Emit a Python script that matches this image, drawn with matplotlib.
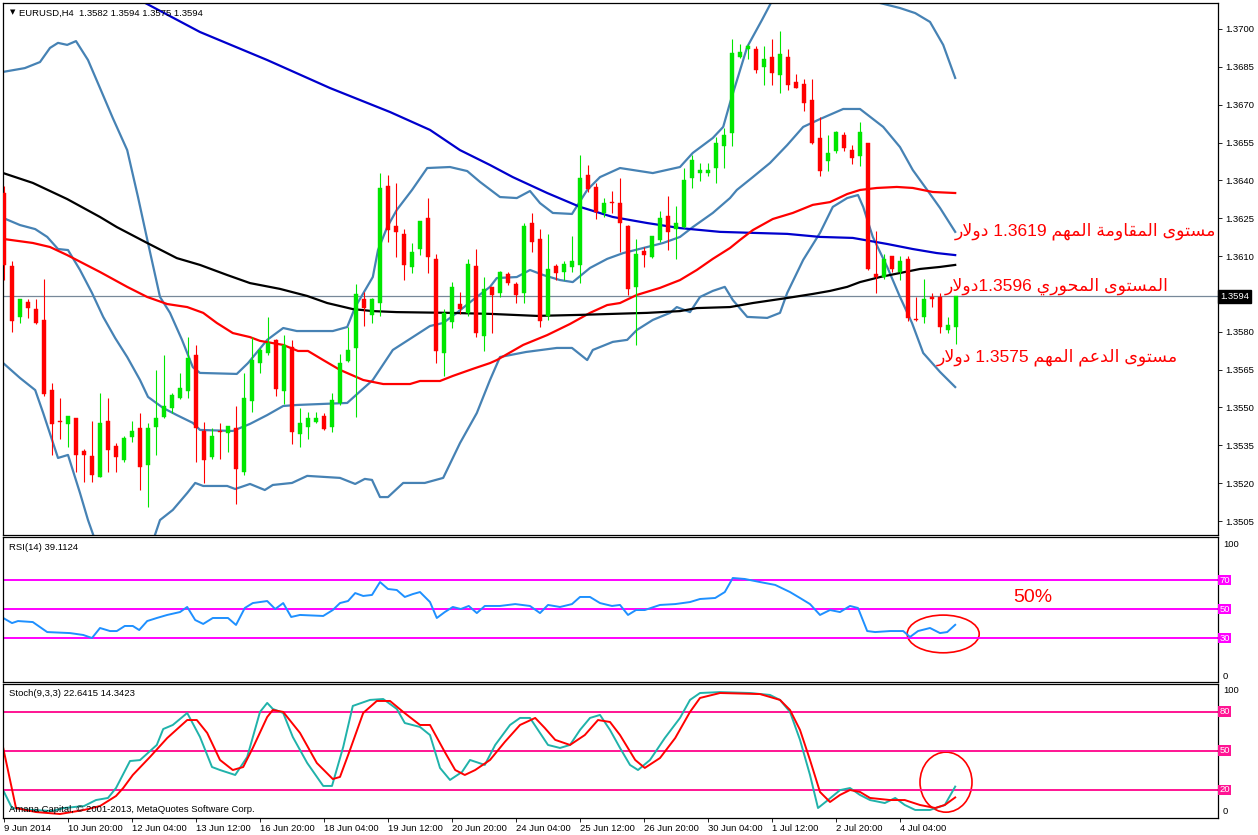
import re
import matplotlib
matplotlib.use("Agg")
import matplotlib.pyplot as plt
from matplotlib.patches import Ellipse

# ---- candles (EURUSD H4), bar 0 = 9 Jun 2014 12:00 ----
opens = [1.36350, 1.36060, 1.35857, 1.35917, 1.35890, 1.35847, 1.35569, 1.35446, 1.35435, 1.35460,
         1.35328, 1.35308, 1.35226, 1.35447, 1.35347, 1.35292, 1.35384, 1.35420, 1.35272, 1.35424,
         1.35464, 1.35497, 1.35536, 1.35567, 1.35708, 1.35407, 1.35305, 1.35407, 1.35398, 1.35420,
         1.35246, 1.35527, 1.35675, 1.35717, 1.35768, 1.35567, 1.35739, 1.35395, 1.35424, 1.35444,
         1.35466, 1.35424, 1.35517, 1.35685, 1.35737, 1.35930, 1.35867, 1.35915, 1.36378, 1.36219,
         1.36188, 1.36058, 1.36127, 1.36250, 1.36087, 1.35717, 1.35838, 1.35909, 1.35873, 1.36061,
         1.35785, 1.35979, 1.35955, 1.36029, 1.35988, 1.35955, 1.36232, 1.36168, 1.35863, 1.36061,
         1.36038, 1.36058, 1.36065, 1.36421, 1.36375, 1.36270, 1.36316, 1.36309, 1.36219, 1.35976,
         1.36120, 1.36098, 1.36164, 1.36259, 1.36206, 1.36217, 1.36408, 1.36428, 1.36428, 1.36448,
         1.36536, 1.36589, 1.36888, 1.36920, 1.36920, 1.36848, 1.36888, 1.36818, 1.36888, 1.36789,
         1.36782, 1.36719, 1.36567, 1.36478, 1.36518, 1.36580, 1.36520, 1.36497, 1.36547, 1.36029,
         1.36016, 1.36100, 1.36038, 1.36087, 1.35848, 1.35857, 1.35937, 1.35937, 1.35807, 1.35820]
highs = [1.36378, 1.36081, 1.35930, 1.35930, 1.35930, 1.36009, 1.35596, 1.35536, 1.35466, 1.35460,
         1.35336, 1.35448, 1.35556, 1.35536, 1.35358, 1.35387, 1.35447, 1.35480, 1.35437, 1.35649,
         1.35708, 1.35556, 1.35638, 1.35781, 1.35748, 1.35444, 1.35418, 1.35437, 1.35427, 1.35506,
         1.35638, 1.35781, 1.35735, 1.35860, 1.35770, 1.35787, 1.35768, 1.35499, 1.35483, 1.35483,
         1.35477, 1.35556, 1.35712, 1.35820, 1.35990, 1.35959, 1.35932, 1.36428, 1.36421, 1.36391,
         1.36207, 1.36151, 1.36240, 1.36329, 1.36108, 1.35889, 1.35996, 1.35957, 1.36089, 1.36128,
         1.36018, 1.35979, 1.36040, 1.36036, 1.35996, 1.36232, 1.36272, 1.36207, 1.36188, 1.36069,
         1.36081, 1.36180, 1.36501, 1.36461, 1.36388, 1.36329, 1.36358, 1.36408, 1.36222, 1.36168,
         1.36137, 1.36180, 1.36279, 1.36339, 1.36300, 1.36448, 1.36501, 1.36468, 1.36468, 1.36573,
         1.36606, 1.36960, 1.36941, 1.36939, 1.36933, 1.36933, 1.36960, 1.36992, 1.36920, 1.36822,
         1.36801, 1.36801, 1.36650, 1.36580, 1.36595, 1.36593, 1.36540, 1.36633, 1.36550, 1.36201,
         1.36108, 1.36100, 1.36100, 1.36100, 1.35939, 1.36008, 1.35955, 1.35955, 1.35857, 1.35940]
lows = [1.36006, 1.35800, 1.35836, 1.35856, 1.35830, 1.35546, 1.35312, 1.35376, 1.35345, 1.35246,
        1.35206, 1.35206, 1.35226, 1.35246, 1.35246, 1.35285, 1.35364, 1.35173, 1.35104, 1.35312,
        1.35458, 1.35477, 1.35532, 1.35536, 1.35285, 1.35200, 1.35295, 1.35295, 1.35325, 1.35116,
        1.35232, 1.35483, 1.35636, 1.35708, 1.35546, 1.35514, 1.35355, 1.35345, 1.35375, 1.35437,
        1.35410, 1.35404, 1.35510, 1.35680, 1.35464, 1.35823, 1.35836, 1.35863, 1.36157, 1.36098,
        1.36005, 1.36034, 1.36104, 1.36034, 1.35675, 1.35626, 1.35816, 1.35869, 1.35863, 1.35778,
        1.35725, 1.35794, 1.35939, 1.35985, 1.35915, 1.35915, 1.36117, 1.35818, 1.35847, 1.36005,
        1.36005, 1.36038, 1.35995, 1.36353, 1.36247, 1.36256, 1.36272, 1.36117, 1.35946, 1.35748,
        1.36058, 1.36092, 1.36157, 1.36124, 1.36087, 1.36212, 1.36369, 1.36399, 1.36419, 1.36388,
        1.36448, 1.36536, 1.36884, 1.36880, 1.36827, 1.36778, 1.36778, 1.36748, 1.36758, 1.36765,
        1.36676, 1.36545, 1.36419, 1.36438, 1.36507, 1.36518, 1.36465, 1.36457, 1.36045, 1.35955,
        1.36010, 1.36038, 1.36005, 1.35844, 1.35844, 1.35836, 1.35897, 1.35796, 1.35796, 1.35750]
closes = [1.36065, 1.35844, 1.35930, 1.35896, 1.35836, 1.35552, 1.35435, 1.35442, 1.35466, 1.35312,
          1.35312, 1.35232, 1.35437, 1.35332, 1.35305, 1.35378, 1.35407, 1.35265, 1.35420, 1.35460,
          1.35506, 1.35550, 1.35576, 1.35695, 1.35418, 1.35292, 1.35387, 1.35402, 1.35427, 1.35255,
          1.35536, 1.35688, 1.35728, 1.35757, 1.35573, 1.35748, 1.35404, 1.35437, 1.35457, 1.35457,
          1.35416, 1.35530, 1.35675, 1.35728, 1.35950, 1.35893, 1.35929, 1.36369, 1.36203, 1.36197,
          1.36065, 1.36117, 1.36239, 1.36098, 1.35725, 1.35873, 1.35976, 1.35889, 1.36069, 1.35796,
          1.35968, 1.35946, 1.36036, 1.35992, 1.35946, 1.36219, 1.36157, 1.35844, 1.36049, 1.36032,
          1.36069, 1.36082, 1.36408, 1.36366, 1.36276, 1.36309, 1.36312, 1.36230, 1.35968, 1.36107,
          1.36104, 1.36180, 1.36252, 1.36197, 1.36230, 1.36402, 1.36481, 1.36441, 1.36441, 1.36547,
          1.36580, 1.36904, 1.36910, 1.36933, 1.36838, 1.36880, 1.36827, 1.36901, 1.36778, 1.36767,
          1.36708, 1.36547, 1.36438, 1.36507, 1.36591, 1.36527, 1.36488, 1.36591, 1.36048, 1.36016,
          1.36087, 1.36048, 1.36082, 1.35856, 1.35846, 1.35929, 1.35929, 1.35818, 1.35827, 1.35940]

# ---- Bollinger bands (read at sample bars) ----
bb_up_x = [-0.1, 2.6, 4.5, 5.75, 6.75, 7.9, 9, 10.5, 12, 13.6, 15.4, 16.75, 18, 19.5, 20.75, 22.25,
           23.6, 24.5, 29.1, 30.5, 32.9, 34.9, 36.6, 41.1, 42.9, 43.9, 46.1, 46.75, 47.9, 49.1, 51,
           52.9, 55.75, 57.9, 59.5, 62, 64.1, 65.75, 67, 68.6, 71, 72.9, 74.5, 77, 81.1, 84.5, 86.1,
           88.6, 89.9, 90.75, 92.9, 94.75, 96.4, 99.5, 103.25, 106.4, 109.5, 112, 113.9, 115.75,
           117.4, 118.9]
bb_up = [1.36830, 1.36845, 1.36869, 1.36925, 1.36945, 1.36937, 1.36952, 1.36877, 1.36766, 1.36647,
         1.36520, 1.36334, 1.36152, 1.35938, 1.35875, 1.35768, 1.35660, 1.35637, 1.35633, 1.35676,
         1.35768, 1.35815, 1.35803, 1.35803, 1.35819, 1.35898, 1.36017, 1.36124, 1.36215, 1.36283,
         1.36362, 1.36449, 1.36453, 1.36437, 1.36394, 1.36334, 1.36330, 1.36358, 1.36310, 1.36271,
         1.36267, 1.36362, 1.36413, 1.36449, 1.36429, 1.36453, 1.36509, 1.36568, 1.36612, 1.36707,
         1.36929, 1.37036, 1.37135, 1.37214, 1.37163, 1.37115, 1.37103, 1.37083, 1.37063, 1.37028,
         1.36937, 1.36806]
bb_mid_x = [-0.1, 2, 3.9, 5.4, 6.75, 8, 9.5, 11, 12.4, 13.9, 15.4, 17, 18, 19.9, 21.6, 23.6, 24.5,
            28.6, 30.75, 32.9, 34.9, 36.6, 42.9, 46.1, 48.6, 51.1, 53.25, 54.9, 56.6, 58.6, 60.75,
            61.6, 64.1, 65.75, 67.4, 69.5, 71.1, 73.25, 75.4, 77.4, 80.4, 82.4, 84.5, 86.1, 88.6,
            90.75, 91.6, 93.6, 95.75, 97.9, 99.9, 102, 104.9, 107, 109.9, 112, 113.6, 115.4, 117,
            118.9]
bb_mid = [1.36251, 1.36223, 1.36207, 1.36176, 1.36128, 1.36124, 1.36045, 1.35954, 1.35859, 1.35775,
          1.35700, 1.35609, 1.35542, 1.35498, 1.35470, 1.35439, 1.35411, 1.35407, 1.35435, 1.35470,
          1.35506, 1.35510, 1.35518, 1.35609, 1.35728, 1.35779, 1.35823, 1.35835, 1.35875, 1.35926,
          1.35978, 1.36013, 1.36017, 1.36045, 1.36025, 1.36005, 1.35997, 1.36053, 1.36089, 1.36112,
          1.36136, 1.36152, 1.36176, 1.36215, 1.36271, 1.36330, 1.36362, 1.36413, 1.36469, 1.36540,
          1.36612, 1.36643, 1.36683, 1.36683, 1.36612, 1.36532, 1.36441, 1.36362, 1.36291, 1.36196]
bb_lo_x = [-0.1, 2, 3.9, 4.9, 6.75, 8, 9.5, 10.5, 11.6, 13.25, 15.1, 17.6, 19.5, 21.1, 22.9, 23.9,
           24.9, 27.9, 28.9, 30.75, 32.6, 33.6, 36, 37.9, 42, 43.9, 45.1, 46, 47, 48, 49.9, 52.6,
           54.9, 57, 59.1, 60.75, 62, 65.25, 69.1, 71, 72.9, 73.6, 76.1, 77.9, 79.1, 81.1, 83.25,
           84.1, 85.75, 87, 88.6, 90.1, 91.1, 92.9, 95.4, 97, 97.9, 99.9, 102, 103.6, 105.4, 106.75,
           107.4, 108.6, 110.4, 112, 113.5, 114.9, 117, 118.9]
bb_lo = [1.35676, 1.35617, 1.35569, 1.35478, 1.35300, 1.35312, 1.35161, 1.35054, 1.34955, 1.34876,
         1.34836, 1.34876, 1.35054, 1.35094, 1.35161, 1.35201, 1.35189, 1.35189, 1.35177, 1.35197,
         1.35173, 1.35193, 1.35201, 1.35229, 1.35221, 1.35197, 1.35217, 1.35213, 1.35145, 1.35145,
         1.35201, 1.35201, 1.35221, 1.35359, 1.35478, 1.35609, 1.35700, 1.35720, 1.35736, 1.35736,
         1.35688, 1.35728, 1.35760, 1.35768, 1.35807, 1.35847, 1.35875, 1.35898, 1.35878, 1.35938,
         1.35962, 1.35978, 1.35926, 1.35859, 1.35855, 1.35875, 1.35954, 1.36085, 1.36192, 1.36295,
         1.36330, 1.36342, 1.36295, 1.36176, 1.36057, 1.35938, 1.35835, 1.35716, 1.35641, 1.35581]

# ---- moving averages ----
ma_red_x = [-0.1, 3.6, 5.75, 7.9, 12, 15.4, 17.9, 20.4, 22.9, 24.9, 26.6, 28.6, 30.75, 32, 34.9,
            36.75, 38, 39.9, 42, 44.9, 47.4, 50.75, 52, 54.5, 56.1, 58.6, 60.75, 61.6, 64.9, 67.9,
            70.75, 73.25, 75.4, 77, 79.1, 82, 84.5, 86.6, 88.6, 90.75, 92, 93.6, 96.1, 98.6, 101.1,
            103.25, 105.4, 107, 109.1, 111.6, 113.6, 116.1, 118.9]
ma_red = [1.36168, 1.36152, 1.36136, 1.36104, 1.36037, 1.35978, 1.35938, 1.35910, 1.35898, 1.35875,
          1.35835, 1.35795, 1.35779, 1.35764, 1.35748, 1.35724, 1.35724, 1.35688, 1.35649, 1.35609,
          1.35593, 1.35593, 1.35605, 1.35605, 1.35625, 1.35653, 1.35676, 1.35688, 1.35748, 1.35787,
          1.35831, 1.35875, 1.35906, 1.35914, 1.35946, 1.35974, 1.36005, 1.36045, 1.36089, 1.36132,
          1.36164, 1.36203, 1.36247, 1.36271, 1.36303, 1.36314, 1.36346, 1.36362, 1.36370, 1.36374,
          1.36370, 1.36354, 1.36350]
ma_black_x = [-0.1, 3.6, 7.9, 12, 14.1, 17.9, 21.6, 24.5, 27.9, 30.75, 34.5, 37.9, 40.4, 43.6, 46.1,
              49.1, 55.75, 60.75, 66.6, 72, 76.1, 80.4, 84.5, 86.6, 90.75, 93.6, 97.9, 101.1, 103.25,
              105.4, 107, 109.5, 112, 114.5, 117, 118.9]
ma_black = [1.36429, 1.36390, 1.36326, 1.36255, 1.36215, 1.36152, 1.36092, 1.36065, 1.36025, 1.35993,
            1.35970, 1.35942, 1.35914, 1.35890, 1.35882, 1.35878, 1.35875, 1.35871, 1.35863, 1.35867,
            1.35871, 1.35875, 1.35882, 1.35894, 1.35898, 1.35914, 1.35934, 1.35950, 1.35962, 1.35978,
            1.35997, 1.36017, 1.36033, 1.36049, 1.36057, 1.36065]
ma_blue_x = [15.75, 24.5, 32.9, 40.75, 48.25, 53.25, 57, 60.75, 63.6, 67.9, 72, 76.1, 80.4, 84.5,
             89.5, 93.6, 97.9, 102, 106.1, 108.25, 110.4, 113.6, 116.6, 118.9]
ma_blue = [1.37135, 1.36988, 1.36877, 1.36766, 1.36671, 1.36600, 1.36520, 1.36461, 1.36413, 1.36350,
           1.36295, 1.36255, 1.36231, 1.36211, 1.36196, 1.36192, 1.36188, 1.36176, 1.36172, 1.36160,
           1.36148, 1.36128, 1.36112, 1.36104]

# ---- RSI(14) ----
rsi_x = [-0.1, 1, 1.75, 3.6, 5.4, 8.25, 9.9, 11, 12, 13.25, 14.1, 15.1, 16.1, 16.9, 17.9, 19.1, 20.4,
         22, 22.9, 23.9, 24.9, 26.1, 28, 29, 30.1, 31.1, 32.9, 33.9, 34.9, 35.9, 37, 39.9, 41.1, 42,
         43, 43.9, 44.9, 46, 47, 48, 49.1, 50.1, 51.1, 52, 53.25, 54.1, 55.1, 56.1, 57.1, 58.1, 59.1,
         60.1, 62, 63.9, 65.75, 67, 68, 69.5, 71, 72, 73.25, 74.5, 76, 77, 78, 79, 80.1, 82, 83.9,
         85.75, 87, 88.9, 90.1, 91.1, 92.6, 94.5, 96.4, 98.25, 99.5, 100.75, 102, 103.25, 104.5,
         105.75, 106.75, 107.9, 108.9, 110.75, 112.4, 113.25, 114.25, 115.75, 117, 117.9, 118.9]
rsi = [43.8, 40.3, 41.7, 41.0, 34.1, 33.4, 32.1, 30.0, 36.9, 34.8, 34.8, 38.3, 38.3, 35.5, 41.7, 43.8,
       45.9, 47.9, 51.4, 42.4, 39.7, 43.8, 43.8, 39.0, 50.7, 54.1, 55.5, 50.0, 54.1, 44.5, 45.9, 45.2,
       49.3, 54.1, 55.5, 61.0, 59.0, 59.7, 68.6, 63.8, 63.1, 58.3, 60.3, 61.7, 54.8, 43.8, 47.9, 51.4,
       50.0, 52.1, 47.2, 52.1, 52.1, 53.4, 52.1, 47.2, 52.8, 51.4, 53.4, 58.3, 58.3, 54.1, 52.1, 52.8,
       45.9, 49.3, 49.3, 52.8, 53.4, 54.8, 56.9, 57.6, 61.7, 71.4, 70.7, 68.6, 66.6, 61.7, 57.6, 53.4,
       45.9, 49.3, 47.9, 52.1, 50.7, 34.8, 34.1, 34.8, 34.8, 30.7, 34.8, 36.9, 33.4, 34.1, 39.1]

# ---- Stochastic(9,3,3) ----
stk_x = [0, 1, 3.5, 6, 7.5, 10, 11.5, 13, 14, 15.75, 17, 19.1, 19.9, 21.1, 22.9, 24.5, 26, 27, 28.9,
         30.4, 32, 32.9, 33.6, 34.9, 36.1, 37.9, 39.9, 41, 42.4, 43.6, 45.75, 47.4, 49.1, 50.1, 52,
         53.25, 54.5, 55.75, 57.25, 58.25, 60.1, 61.4, 63.25, 64.5, 65.75, 66.75, 68, 69.5, 70.75, 72,
         73.25, 74.5, 75.75, 77, 78.25, 79.25, 80.75, 82.6, 84.5, 85.75, 87, 89.5, 93.25, 95.75, 97,
         98.25, 99.5, 100.75, 101.75, 103, 104.5, 105.75, 107, 108.25, 110.1, 111.4, 112.6, 113.9,
         115.75, 117.6, 118.9]
stk = [18.5, 6.2, 4.7, 3.9, 6.2, 7.7, 12.3, 13.9, 21.5, 42.2, 42.9, 54.5, 66.7, 69.8, 79.0, 60.6, 37.6,
       35.3, 31.5, 45.3, 79.8, 86.7, 82.1, 79.0, 60.6, 40.7, 23.1, 23.1, 52.9, 84.4, 89.0, 89.7, 82.1,
       71.3, 68.3, 62.1, 36.9, 27.7, 33.8, 43.0, 39.2, 54.5, 69.8, 75.2, 75.2, 66.0, 54.5, 52.2, 54.5,
       66.0, 75.2, 77.5, 66.0, 52.2, 39.2, 35.3, 43.0, 59.8, 75.2, 89.0, 94.3, 95.0, 94.3, 92.8, 89.0,
       79.8, 58.4, 31.5, 6.2, 12.3, 19.9, 21.5, 16.2, 12.3, 10.0, 13.9, 8.5, 4.7, 4.7, 8.5, 22.6]
std_x = [-0.1, 1.5, 4, 7, 10, 12, 14, 14.9, 16.1, 18.25, 20.4, 22.9, 24.1, 25.4, 27, 28.6, 29.9, 31.1,
         32.9, 33.6, 34.9, 37, 39.1, 41.1, 42, 43.25, 44.9, 46.6, 48.25, 49.9, 52, 53.25, 55.1, 56.4,
         57.6, 58.9, 60.75, 62.6, 64.5, 66.4, 67.6, 68.9, 70.75, 72.6, 74.25, 75.75, 77, 78.9, 80.1,
         82, 83.9, 85.75, 87, 89.5, 94.5, 97, 98.25, 99.5, 100.75, 102, 103.25, 104.5, 105.75, 107,
         108.25, 110.75, 112.6, 114.5, 116.4, 117.6, 118.9]
std = [52.2, 6.2, 3.1, 1.6, 4.7, 7.7, 15.4, 21.5, 31.5, 45.3, 59.8, 73.6, 73.6, 63.7, 43.0, 35.3, 37.6,
       52.2, 75.9, 81.3, 79.8, 63.7, 40.7, 28.4, 30.0, 50.7, 79.0, 88.2, 88.2, 79.8, 69.8, 69.8, 49.1,
       35.3, 31.5, 35.3, 43.0, 56.8, 69.8, 75.2, 67.5, 58.4, 54.5, 62.1, 73.6, 72.1, 62.1, 43.0, 36.9,
       44.5, 59.8, 79.8, 90.5, 94.3, 93.5, 89.0, 81.3, 66.0, 43.0, 18.5, 10.8, 16.2, 20.0, 18.5, 13.9,
       12.3, 12.3, 8.5, 6.2, 8.5, 14.3]

price_ticks = [1.3505 + 0.0015 * k for k in range(14)]
time_ticks = list(range(0, 113, 8))
time_labels = ["9 Jun 2014", "10 Jun 20:00", "12 Jun 04:00", "13 Jun 12:00", "16 Jun 20:00",
               "18 Jun 04:00", "19 Jun 12:00", "20 Jun 20:00", "24 Jun 04:00", "25 Jun 12:00",
               "26 Jun 20:00", "30 Jun 04:00", "1 Jul 12:00", "2 Jul 20:00", "4 Jul 04:00"]

note_res = "مستوى المقاومة المهم 1.3619 دولار"
note_piv = "المستوى المحوري 1.3596دولار"
note_sup = "مستوى الدعم المهم 1.3575 دولار"

# --- simple arabic shaping + visual ordering (no reshaper available) ---
FORMS = {
    'ا': (0xFE8D, 0xFE8E, None, None), 'ة': (0xFE93, 0xFE94, None, None),
    'ت': (0xFE95, 0xFE96, 0xFE97, 0xFE98), 'ح': (0xFEA1, 0xFEA2, 0xFEA3, 0xFEA4),
    'د': (0xFEA9, 0xFEAA, None, None), 'ر': (0xFEAD, 0xFEAE, None, None),
    'س': (0xFEB1, 0xFEB2, 0xFEB3, 0xFEB4), 'ع': (0xFEC9, 0xFECA, 0xFECB, 0xFECC),
    'ق': (0xFED5, 0xFED6, 0xFED7, 0xFED8), 'ل': (0xFEDD, 0xFEDE, 0xFEDF, 0xFEE0),
    'م': (0xFEE1, 0xFEE2, 0xFEE3, 0xFEE4), 'ه': (0xFEE9, 0xFEEA, 0xFEEB, 0xFEEC),
    'و': (0xFEED, 0xFEEE, None, None), 'ى': (0xFEEF, 0xFEF0, None, None),
    'ي': (0xFEF1, 0xFEF2, 0xFEF3, 0xFEF4),
}


def joins_next(c):
    return c in FORMS and FORMS[c][2] is not None


def shape(s):
    out, i = [], 0
    while i < len(s):
        c = s[i]
        if c not in FORMS:
            out.append(c)
            i += 1
            continue
        prev_j = i > 0 and joins_next(s[i - 1])
        if c == 'ل' and i + 1 < len(s) and s[i + 1] == 'ا':
            out.append(chr(0xFEFC if prev_j else 0xFEFB))
            i += 2
            continue
        next_j = joins_next(c) and i + 1 < len(s) and s[i + 1] in FORMS
        iso, fin, ini, med = FORMS[c]
        g = med if (prev_j and next_j) else fin if prev_j else ini if next_j else iso
        out.append(chr(g))
        i += 1
    return ''.join(out)


def visual(s):
    runs = re.findall(r'[0-9.]+|[^0-9.]+', shape(s))
    return ''.join(r if r[0].isdigit() else r[::-1] for r in reversed(runs))


W, H = 1258, 835
fig = plt.figure(figsize=(W / 100, H / 100), dpi=100)
fig.patch.set_facecolor("white")
small = dict(family=["Liberation Sans", "DejaVu Sans"], size=6.8)


def panel(top, bottom):
    ax = fig.add_axes([3 / W, 1 - bottom / H, 1215 / W, (bottom - top) / H])
    ax.set_xlim(-0.125, 151.75)
    for s in ax.spines.values():
        s.set_linewidth(0.9)
        s.set_color("black")
    ax.yaxis.tick_right()
    ax.tick_params(axis="y", length=3, width=0.6, pad=2, labelsize=6.8)
    return ax


# ---- main price panel ----
ax = panel(3, 535)
ax.set_ylim(1.349947, 1.371030)
ax.set_xticks([])
ax.set_yticks(price_ticks)
# the 1.3595 label sits under the current-price box, so it is left blank
ax.set_yticklabels(["" if abs(p - 1.3595) < 1e-6 else "%.4f" % p for p in price_ticks],
                   fontdict=small)

ax.axhline(closes[-1], color="#778899", lw=0.9, zorder=1)
ax.plot(bb_up_x, bb_up, color="#4682B4", lw=1.6, zorder=2)
ax.plot(bb_mid_x, bb_mid, color="#4682B4", lw=1.6, zorder=2)
ax.plot(bb_lo_x, bb_lo, color="#4682B4", lw=1.6, zorder=2)
ax.plot(ma_blue_x, ma_blue, color="#0000CD", lw=1.6, zorder=2)
ax.plot(ma_red_x, ma_red, color="#FF0000", lw=1.6, zorder=2)
ax.plot(ma_black_x, ma_black, color="black", lw=1.6, zorder=2)

for i, (o, h, l, c) in enumerate(zip(opens, highs, lows, closes)):
    col = "#00E600" if c >= o else "#FF0000"
    ax.vlines(i, l, h, color=col, lw=0.8, zorder=3)
    ax.bar(i, max(abs(c - o), 0.00003), bottom=min(o, c), width=0.62, color=col,
           edgecolor=col, linewidth=0.3, zorder=4)

ax.text(0.006, 0.988, "▼", transform=ax.transAxes, fontsize=5, va="top", family="DejaVu Sans")
ax.text(0.013, 0.99, "EURUSD,H4  1.3582 1.3594 1.3575 1.3594", transform=ax.transAxes,
        va="top", fontdict=small)
ax.text(1.0015, closes[-1], "%.4f" % closes[-1], transform=ax.get_yaxis_transform(),
        va="center", ha="left", color="white", fontdict=small, zorder=10,
        bbox=dict(boxstyle="square,pad=0.2", fc="black", ec="black"))

arab = dict(family=["Liberation Sans", "DejaVu Sans"], size=12.5, color="#FF0000")
ax.text(118.9, 1.36200, visual(note_res), ha="left", va="center", **arab)
ax.text(117.6, 1.35980, visual(note_piv), ha="left", va="center", **arab)
ax.text(116.6, 1.35700, visual(note_sup), ha="left", va="center", **arab)

# ---- RSI panel ----
ar = panel(537, 682)
ar.set_ylim(-0.34, 99.66)
ar.set_xticks([])
ar.set_yticks([])
for lv in (70, 50, 30):
    ar.axhline(lv, color="#FF00FF", lw=1.4)
    ar.text(1.001, lv, str(lv), transform=ar.get_yaxis_transform(), va="center", ha="left",
            color="white", fontdict=small, bbox=dict(boxstyle="square,pad=0.1", fc="#FF00FF", ec="none"))
ar.text(1.004, 0.95, "100", transform=ar.transAxes, va="center", fontdict=small)
ar.text(1.004, 0.04, "0", transform=ar.transAxes, va="center", fontdict=small)
ar.plot(rsi_x, rsi, color="#1E90FF", lw=1.4)
ar.text(0.005, 0.93, "RSI(14) 39.1124", transform=ar.transAxes, va="center", fontdict=small)
ar.text(126.1, 57.6, "50%", color="#FF0000", fontsize=14, family="Liberation Sans", va="center")
ar.add_patch(Ellipse((117.4, 32.8), 9.0, 26, fill=False, ec="#FF0000", lw=1.2))

# ---- Stochastic panel ----
ast = panel(684, 818)
ast.set_ylim(-1.46, 101.2)
ast.set_yticks([])
for lv in (80, 50, 20):
    ast.axhline(lv, color="#FF1493", lw=1.4)
    ast.text(1.001, lv, str(lv), transform=ast.get_yaxis_transform(), va="center", ha="left",
             color="white", fontdict=small, bbox=dict(boxstyle="square,pad=0.1", fc="#FF1493", ec="none"))
ast.text(1.004, 0.95, "100", transform=ast.transAxes, va="center", fontdict=small)
ast.text(1.004, 0.05, "0", transform=ast.transAxes, va="center", fontdict=small)
ast.plot(stk_x, stk, color="#20B2AA", lw=1.4)
ast.plot(std_x, std, color="#FF0000", lw=1.4)
ast.text(0.005, 0.93, "Stoch(9,3,3) 22.6415 14.3423", transform=ast.transAxes, va="center",
         fontdict=small)
ast.text(0.005, 0.06, "Amana Capital, © 2001-2013, MetaQuotes Software Corp.",
         transform=ast.transAxes, va="center", fontdict=small)
ast.add_patch(Ellipse((117.75, 26), 6.5, 46, fill=False, ec="#FF0000", lw=1.2))
ast.set_xticks(time_ticks)
ast.set_xticklabels(time_labels, ha="left", fontdict=small)
ast.tick_params(axis="x", length=3, width=0.6, pad=1)

fig.savefig("out.png", dpi=100, facecolor="white")
